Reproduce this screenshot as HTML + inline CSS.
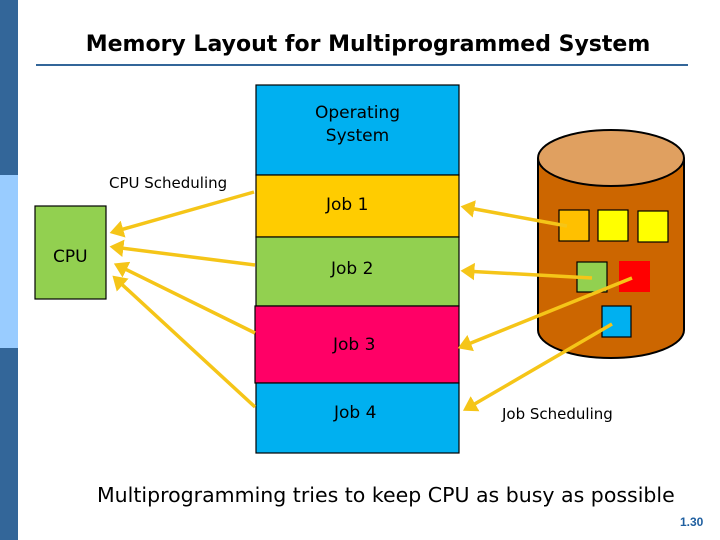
<!DOCTYPE html>
<html><head><style>
body{margin:0;width:720px;height:540px;background:#fff;overflow:hidden;position:relative;font-family:"Liberation Sans",sans-serif}
.a{position:absolute}
.t{font-family:"DejaVu Sans","Liberation Sans",sans-serif}
</style></head><body>
<div class="a" style="left:0;top:0;width:18px;height:175px;background:#336699"></div>
<div class="a" style="left:0;top:175px;width:18px;height:173px;background:#99ccff"></div>
<div class="a" style="left:0;top:348px;width:18px;height:192px;background:#336699"></div>
<div class="a t" style="left:36px;width:664px;top:32px;text-align:center;font-size:22px;font-weight:bold">Memory Layout for Multiprogrammed System</div>
<div class="a" style="left:36px;top:64px;width:652px;height:2px;background:#336699"></div>
<svg class="a" style="left:0;top:0" width="720" height="540">
<g stroke="#000" stroke-width="1.2">
<rect x="256" y="85" width="203" height="90" fill="#00b0f0"/>
<rect x="256" y="175" width="203" height="62" fill="#ffcc00"/>
<rect x="256" y="237" width="203" height="69" fill="#92d050"/>
<rect x="255" y="306" width="204" height="77" fill="#ff0066"/>
<rect x="256" y="383" width="203" height="70" fill="#00b0f0"/>
<rect x="35" y="206" width="71" height="93" fill="#92d050"/>
<path d="M538,158 L538,330 A73,28 0 0 0 684,330 L684,158" fill="#cc6600" stroke-width="2"/>
<ellipse cx="611" cy="158" rx="73" ry="28" fill="#e0a060" stroke-width="2"/>
<rect x="559" y="210" width="30" height="31" fill="#ffc000"/>
<rect x="598" y="210" width="30" height="31" fill="#ffff00"/>
<rect x="638" y="211" width="30" height="31" fill="#ffff00"/>
<rect x="577" y="262" width="30" height="30" fill="#92d050"/>
<rect x="619" y="261" width="31" height="31" fill="#ff0000" stroke="none"/>
<rect x="602" y="306" width="29" height="31" fill="#00b0f0"/>
</g>
<defs><marker id="m" markerWidth="5" markerHeight="5" refX="3" refY="2.5" orient="auto" markerUnits="strokeWidth"><path d="M0,0 L4,2.5 L0,5 Z" fill="#f5c518"/></marker></defs>
<g stroke="#f5c518" stroke-width="3.5" marker-end="url(#m)">
<line x1="254" y1="192" x2="113" y2="232"/>
<line x1="255" y1="265" x2="113" y2="247"/>
<line x1="255" y1="333" x2="117" y2="265"/>
<line x1="255" y1="407" x2="115" y2="278"/>
<line x1="567" y1="226" x2="464" y2="207"/>
<line x1="592" y1="278" x2="464" y2="271"/>
<line x1="632" y1="278" x2="461" y2="347"/>
<line x1="612" y1="324" x2="466" y2="409"/>
</g>
</svg>
<div class="a t" style="left:256px;width:203px;top:102px;text-align:center;font-size:17px;line-height:23px">Operating<br>System</div>
<div class="a t" style="left:326px;top:195px;font-size:17px">Job 1</div>
<div class="a t" style="left:331px;top:259px;font-size:17px">Job 2</div>
<div class="a t" style="left:333px;top:335px;font-size:17px">Job 3</div>
<div class="a t" style="left:334px;top:403px;font-size:17px">Job 4</div>
<div class="a t" style="left:53px;top:247px;font-size:17px">CPU</div>
<div class="a t" style="left:109px;top:174px;font-size:15px">CPU Scheduling</div>
<div class="a t" style="left:502px;top:405px;font-size:15px">Job Scheduling</div>
<div class="a t" style="left:97px;top:483px;font-size:20.5px">Multiprogramming tries to keep CPU as busy as possible</div>
<div class="a" style="left:680px;top:515px;font-size:12px;font-weight:bold;color:#1f5fa0">1.30</div>
</body></html>
